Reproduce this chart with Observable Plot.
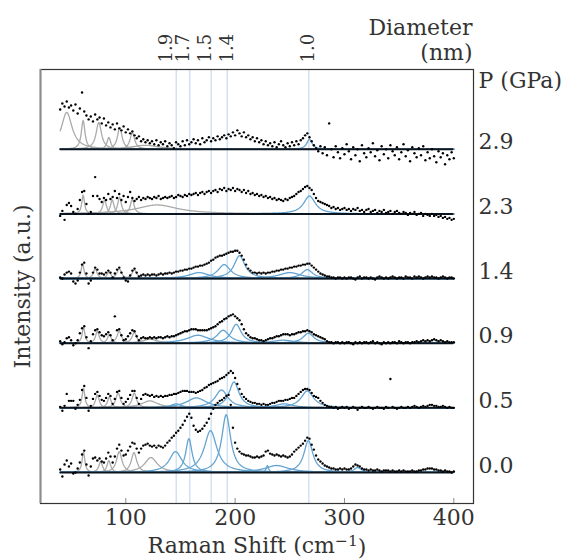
<!DOCTYPE html>
<html>
<head>
<meta charset="utf-8">
<script src="https://cdn.jsdelivr.net/npm/d3@7"></script>
<script src="https://cdn.jsdelivr.net/npm/@observablehq/plot@0.6"></script>
<style>
  html, body { margin: 0; padding: 0; background: white; overflow: hidden; }
  svg text { font-weight: normal; }
</style>
</head>
<body>
<div id="chart"></div>
<script>
// Raman shift grid of the measured points (cm^-1)
const shiftStart = 40, shiftEnd = 400, shiftStep = 2;
const xDomain = [22, 418];
const xTicks = [100, 200, 300, 400];

// pressures (GPa) and vertical offsets of each spectrum (a.u.)
const pressures = ["0.0", "0.5", "0.9", "1.4", "2.3", "2.9"];
const offsets = [0, 65, 130, 195, 260, 325];
const yDomain = [-31.2, 405.2];

// tube diameters (nm), their tick positions and the RBM guide lines (cm^-1)
const diamText = ["1.9", "1.7", "1.5", "1.4", "1.0"];
const diamTickShift = [136.7, 152.8, 172.9, 192.7, 266.5];
const guideShift = [146.1, 158.5, 178.1, 192.8, 267.4];

// measured intensities (a.u. above each baseline), one value per 2 cm^-1 from 40 to 400
const int00 = [3,-4,8,12,6,9,-1,0,4,10, 18,22,8,-3,6,14,15,12,14,11, 10,14,20,16,10,16,24,28,22,17,
  18,22,26,30,29,24,20,24,27,28, 29,27,26,27,25,27,26,25,27,30, 32,35,37,40,42,45,48,52,56,59,
  55,47,43,41,42,44,47,50,54,59, 64,68,70,72,73,75,77,78,68,45, 30,24,21,19,18,17,17,16,15,15,
  16,15,16,17,21,22,19,18,17,18, 17,16,17,16,15,16,18,21,23,25, 27,29,32,35,34,28,23,17,13,11,
  9,7,6,5,4,4,3,3,4,3, 4,3,3,4,6,8,7,6,4,3, 3,2,3,2,2,3,2,1,2,2,
  2,1,2,1,1,2,1,2,1,1, 1,2,1,1,2,2,3,3,4,4, 4,3,3,2,2,1,2,1,1,0, 1];
const int05 = [1,-3,2,14,7,7,7,-1,3,8, 18,22,10,-3,2,9,14,16,12,8, 7,10,14,12,4,9,16,17,10,4,
  6,9,13,17,17,10,4,9,13,14, 13,12,13,11,12,11,12,11,12,12, 13,13,14,14,15,16,17,17,17,16,
  16,16,15,16,17,18,20,21,23,24, 25,26,27,29,30,31,33,35,37,35, 30,24,19,14,11,9,7,6,5,5,
  4,4,3,4,3,3,4,5,5,6, 7,7,7,8,8,9,10,10,12,14, 16,18,19,19,18,15,12,11,10,7,
  5,3,2,1,1,0,1,-1,0,1, 0,1,-1,0,1,0,-2,0,1,0, 0,1,0,-1,0,1,0,0,-1,1,
  0,29,1,0,-1,0,1,0,0,1, 0,1,2,1,0,1,2,1,2,3, 3,2,2,1,1,2,1,0,1,0, 0];
const int09 = [2,-1,1,5,6,3,-2,0,3,10, 15,17,6,-5,2,9,13,14,11,8, 7,9,11,8,3,27,13,14,8,3,
  4,7,10,13,12,7,3,5,6,5, 5,6,5,6,5,6,6,5,6,7, 6,7,7,8,9,10,11,12,12,13,
  14,14,14,13,13,13,13,13,14,15, 16,17,19,21,22,24,25,27,28,29, 27,25,23,19,14,10,8,6,5,5,
  4,3,3,2,3,4,5,5,6,7, 7,8,9,9,9,8,9,9,10,11, 11,12,12,13,12,11,9,8,7,6,
  5,4,2,1,1,0,1,1,0,1, 0,1,1,0,-1,1,0,1,0,1, 1,0,1,2,0,1,0,-1,1,0,
  1,0,1,1,0,2,1,0,1,1, 0,1,1,2,1,2,3,2,3,2, 3,4,3,2,3,2,1,2,1,1, 1];
const int14 = [1,0,4,6,7,5,-3,-5,-2,6, 14,16,5,-5,-2,6,11,9,5,5, 4,6,8,6,1,5,9,11,6,1,
  -2,-3,3,8,10,6,2,3,4,3, 4,3,4,4,3,4,5,4,5,5, 6,5,6,7,7,8,8,9,9,10,
  10,11,12,12,13,13,14,15,16,18, 19,21,22,23,23,24,25,26,27,27, 28,28,26,23,19,14,10,8,6,6,
  5,6,5,6,5,6,6,7,7,8, 8,9,9,10,10,11,11,12,12,13, 13,14,14,15,15,13,11,9,7,5,
  4,3,2,2,1,1,0,1,1,0, 1,0,1,1,0,-1,1,2,0,1, 1,0,1,0,-1,1,2,1,0,1,
  0,1,2,1,0,1,1,0,2,1, 1,0,2,1,2,1,0,1,2,1, 2,1,1,0,1,2,1,0,1,1, 0];
const int23 = [-2,3,-6,9,11,8,2,0,5,14, 22,23,10,0,2,18,37,18,15,12, 16,14,20,15,17,23,16,20,14,18,
  12,17,22,16,13,15,17,14,16,15, 17,16,15,17,16,18,15,16,17,16, 17,18,16,17,19,18,17,19,18,20,
  19,20,21,19,21,22,20,22,23,21, 23,24,22,25,24,26,23,25,24,26, 23,25,24,22,24,21,23,20,21,19,
  20,18,19,17,18,16,17,15,16,14, 15,14,13,15,14,16,17,18,20,22, 23,25,27,28,26,24,20,16,13,12,
  11,10,9,8,6,7,5,6,4,5, 6,4,5,3,5,4,6,3,4,2, 4,5,2,3,4,1,3,2,4,1,
  2,3,0,2,3,1,0,2,1,-1, 1,0,2,-1,0,1,-2,0,-1,-2, 0,-2,-1,-3,-2,-4,-3,-5,-4,-6, -5];
const int29 = [40,46,43,48,42,44,39,45,36,41, 57,38,34,30,33,28,35,30,32,26, 31,24,27,22,25,20,26,21,19,23,
  17,20,16,18,14,11,13,8,10,7, 9,6,8,5,9,4,7,5,8,3, 6,4,1,7,5,3,8,4,9,5,
  7,10,6,9,5,11,7,9,12,8, 11,9,13,10,12,14,11,15,13,17, 14,19,16,13,17,12,14,10,12,8,
  11,7,9,5,8,4,6,3,7,2, 5,8,4,2,6,3,7,4,8,5, 9,11,14,16,12,8,4,1,-2,3,
  -4,2,-6,26,0,-8,3,-3,-9,1, -5,5,-2,-10,2,-6,0,-12,4,-4, -8,1,-3,6,-7,-1,-11,3,-5,0,
  -9,4,-2,-6,2,-10,-3,5,-7,-1, -12,2,-4,-8,1,-6,3,-11,-3,-9, 0,-7,-13,-2,-8,-4,-15,-6,-10,-3, -9];

// fitted Lorentzian peaks: [centre (cm^-1), FWHM (cm^-1), height (a.u.)]
const gray00 = [[61.3,3,21],[77,4,11],[84.5,4,12],[94,6,21],[107.5,6,20],[123,14,15]];
const blue00 = [[145.5,14,21],[157.7,7,34],[177.5,14,42],[191.8,10,58],[229.5,2.5,7],[238,26,7],[267,10,32],[312,8,5]];
const gray05 = [[61.3,3,20],[74,4,13],[85,4,11],[93,5,15],[107.8,5,15],[122,18,7]];
const blue05 = [[146,12,4],[164.6,22,10],[187.5,14,18],[199,11,26],[245,20,4],[266,14,17]];
const gray09 = [[61.3,3,16],[74,4,12],[85,4,9],[94,5,12],[107.8,5,11],[122,16,4]];
const blue09 = [[166,24,8],[189,14,13],[201,11,19],[244,24,3],[267,12,10]];
const gray14 = [[60.5,3,15],[72,4,10],[84.7,4,7],[94,5,10],[107.8,5,9]];
const blue14 = [[167,22,6],[190,14,14],[204,12,23],[250,24,6],[266,12,9]];
const gray23 = [[61,3,19],[80.6,4,14],[87.6,4,14],[94.3,4,17],[105.9,4,15],[128.7,46,9]];
const blue23 = [[268,13,18]];
const gray29 = [[46,12,37],[61,4,29],[75.3,6,27],[84.5,4,12],[94.5,5,22],[106,5,17],[118,30,4]];
const blue29 = [[268,6,10]];

// ---- build tables ----
const spectra = [int00, int05, int09, int14, int23, int29];
const grayPeaks = [gray00, gray05, gray09, gray14, gray23, gray29];
const bluePeaks = [blue00, blue05, blue09, blue14, blue23, blue29];
const shift = d3.range(shiftStart, shiftEnd + 0.001, shiftStep);

const points = spectra.flatMap((vals, i) => vals.map((v, j) => ({x: shift[j], y: offsets[i] + v})));

const fine = d3.range(shiftStart, shiftEnd + 0.001, 0.5);
function curvesOf(peakSets) {
  const out = [];
  peakSets.forEach((list, i) => list.forEach(([c, w, h], k) => {
    for (const x of fine) out.push({id: i + "-" + k, x, y: offsets[i] + h / (1 + ((x - c) / (w / 2)) ** 2)});
  }));
  return out;
}
const grayCurves = curvesOf(grayPeaks);
const blueCurves = curvesOf(bluePeaks);

const ink = "#333333";
const txt = {fill: ink, fontWeight: "normal", lineAnchor: "middle"};
const xLabel = "Raman Shift (cm−1)";

const chart = Plot.plot({
  width: 565,
  height: 559,
  marginLeft: 40,
  marginRight: 92,
  marginTop: 69,
  marginBottom: 56,
  style: {fontFamily: "DejaVu Serif", fontWeight: "normal", color: ink, background: "white", overflow: "visible"},
  x: {domain: xDomain, label: null},
  y: {domain: yDomain, axis: null},
  marks: [
    Plot.ruleX(guideShift, {stroke: "#c6dbef", strokeWidth: 1.2}),
    Plot.line(grayCurves, {x: "x", y: "y", z: "id", stroke: "#aaaaaa", strokeWidth: 1.3}),
    Plot.line(blueCurves, {x: "x", y: "y", z: "id", stroke: "#64a4d2", strokeWidth: 1.3}),
    Plot.ruleY(offsets, {x1: shiftStart, x2: shiftEnd, stroke: "#0b1520", strokeWidth: 2}),
    Plot.dot(points, {x: "x", y: "y", r: 1.2, fill: "#000", stroke: null}),
    Plot.frame({stroke: ink, strokeWidth: 1.2}),
    Plot.ruleX([xDomain[0]], {stroke: "#8c8c8c", strokeWidth: 2}),
    Plot.axisX({ticks: xTicks, tickSize: 0, tickPadding: 6, fontSize: 22, label: null, fill: ink, fontWeight: "normal"}),
    Plot.axisX({ticks: xTicks, tickSize: 5, dy: -5, tickFormat: () => "", label: null, stroke: "#8c8c8c"}),
    Plot.text(pressures, {...txt, y: (d, i) => offsets[i], frameAnchor: "right", dx: 5, dy: -7, textAnchor: "start", fontSize: 22}),
    Plot.text(["P (GPa)"], {...txt, frameAnchor: "top-right", dx: 5, dy: 11, textAnchor: "start", fontSize: 22}),
    Plot.text(["Diameter"], {...txt, frameAnchor: "top-right", dx: -1, dy: -42, textAnchor: "end", fontSize: 22}),
    Plot.text(["(nm)"], {...txt, frameAnchor: "top-right", dx: -1, dy: -17, textAnchor: "end", fontSize: 22}),
    Plot.text(diamText, {...txt, x: (d, i) => diamTickShift[i], frameAnchor: "top", rotate: -90, textAnchor: "start", dy: -7, fontSize: 18}),
    Plot.text(["Intensity (a.u.)"], {...txt, frameAnchor: "left", rotate: -90, textAnchor: "middle", dx: -18, fontSize: 22}),
    Plot.text([xLabel], {...txt, frameAnchor: "bottom", textAnchor: "middle", dy: 42, fontSize: 22})
  ]
});

// typeset the exponent of cm^-1 as a real superscript
d3.select(chart).selectAll("text")
  .filter(function () { return this.textContent === xLabel; })
  .each(function () {
    const t = d3.select(this);
    t.text(null);
    t.append("tspan").text("Raman Shift (cm");
    t.append("tspan").attr("dy", "-0.42em").attr("font-size", "15.5px").text("−1");
    t.append("tspan").attr("dy", "0.42em").text(")");
  });

document.getElementById("chart").appendChild(chart);
</script>
</body>
</html>
